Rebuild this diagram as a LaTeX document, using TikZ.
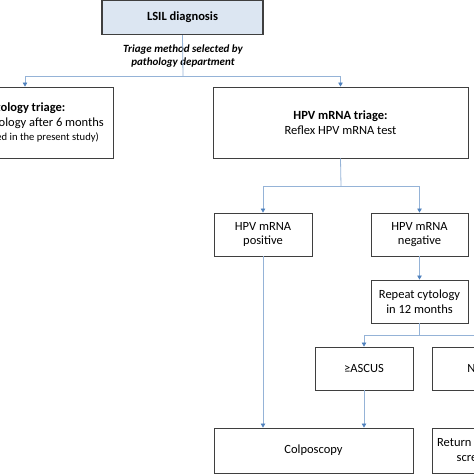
\documentclass[tikz,border=0pt]{standalone}
\usepackage{fontspec}
\setmainfont{Carlito}
\usetikzlibrary{arrows.meta}
\definecolor{linkc}{HTML}{95B3D7}
\definecolor{tipc}{HTML}{4F81BD}
\definecolor{boxc}{HTML}{3F3F3F}
\definecolor{fillc}{HTML}{DCE6F2}
\tikzset{
  flowbox/.style={draw=boxc, line width=0.9pt, fill=white, align=center, inner sep=0pt, font=\fontsize{12.5}{14.5}\selectfont},
  link/.style={draw=linkc, line width=0.8pt},
  arr/.style={link, -{Triangle[width=4.5pt,length=4pt,color=tipc]}},
}
\begin{document}
\begin{tikzpicture}[x=1pt,y=-1pt]
\useasboundingbox (0,0) rectangle (474,474);
\node[flowbox, fill=fillc, line width=1.2pt, minimum width=161pt, minimum height=34pt, font=\fontsize{12.5}{14.5}\selectfont\bfseries] (lsil) at (182.5,17.5) {LSIL diagnosis};
\node[align=center, font=\fontsize{11}{13}\selectfont\bfseries\itshape] (lbl) at (183,56.5) {Triage method selected by\\pathology department};
\node[flowbox, minimum width=177pt, minimum height=71pt] (cyto) at (24.5,122.5) {\textbf{Cytology triage:}\\Repeat cytology after 6 months\\{\fontsize{10.6}{13}\selectfont (not included in the present study)}};
\node[flowbox, minimum width=255pt, minimum height=71pt] (hpv) at (340.5,122.5) {\textbf{HPV mRNA triage:}\\Reflex HPV mRNA test};
\node[flowbox, minimum width=98pt, minimum height=43pt] (pos) at (263,234.5) {HPV mRNA\\positive};
\node[flowbox, minimum width=97pt, minimum height=43pt] (neg) at (419.5,234.5) {HPV mRNA\\negative};
\node[flowbox, minimum width=97pt, minimum height=43pt] (rep) at (419.5,301.5) {Repeat cytology\\in 12 months};
\node[flowbox, minimum width=98pt, minimum height=43pt] (asc) at (364,368.5) {≥ASCUS};
\node[flowbox, minimum width=98pt, minimum height=43pt] (nilm) at (481,368.5) {NILM};
\node[flowbox, minimum width=199pt, minimum height=45pt] (colp) at (313.5,450.5) {Colposcopy};
\node[flowbox, minimum width=98pt, minimum height=45pt] (ret) at (481,450.5) {Return to routine\\screening};
\coordinate (j1) at (183,76);
\draw[link] (lsil.south) -- (j1);
\draw[arr] (j1) -| (cyto.north -| 25,0);
\draw[arr] (j1) -| (hpv.north);
\coordinate (j2) at (341,186);
\draw[link] (hpv.south) -- (j2);
\draw[arr] (j2) -| (pos.north);
\draw[arr] (j2) -| (neg.north);
\draw[arr] (neg.south) -- (rep.north);
\coordinate (j3) at (419.5,335);
\draw[link] (rep.south) -- (j3);
\draw[arr] (j3) -| (asc.north);
\draw[arr] (j3) -| (nilm.north);
\draw[arr] (pos.south) -- (pos.south |- colp.north);
\draw[arr] (asc.south) -- (asc.south |- colp.north);
\draw[arr] (nilm.south) -- (ret.north);
\end{tikzpicture}
\end{document}
